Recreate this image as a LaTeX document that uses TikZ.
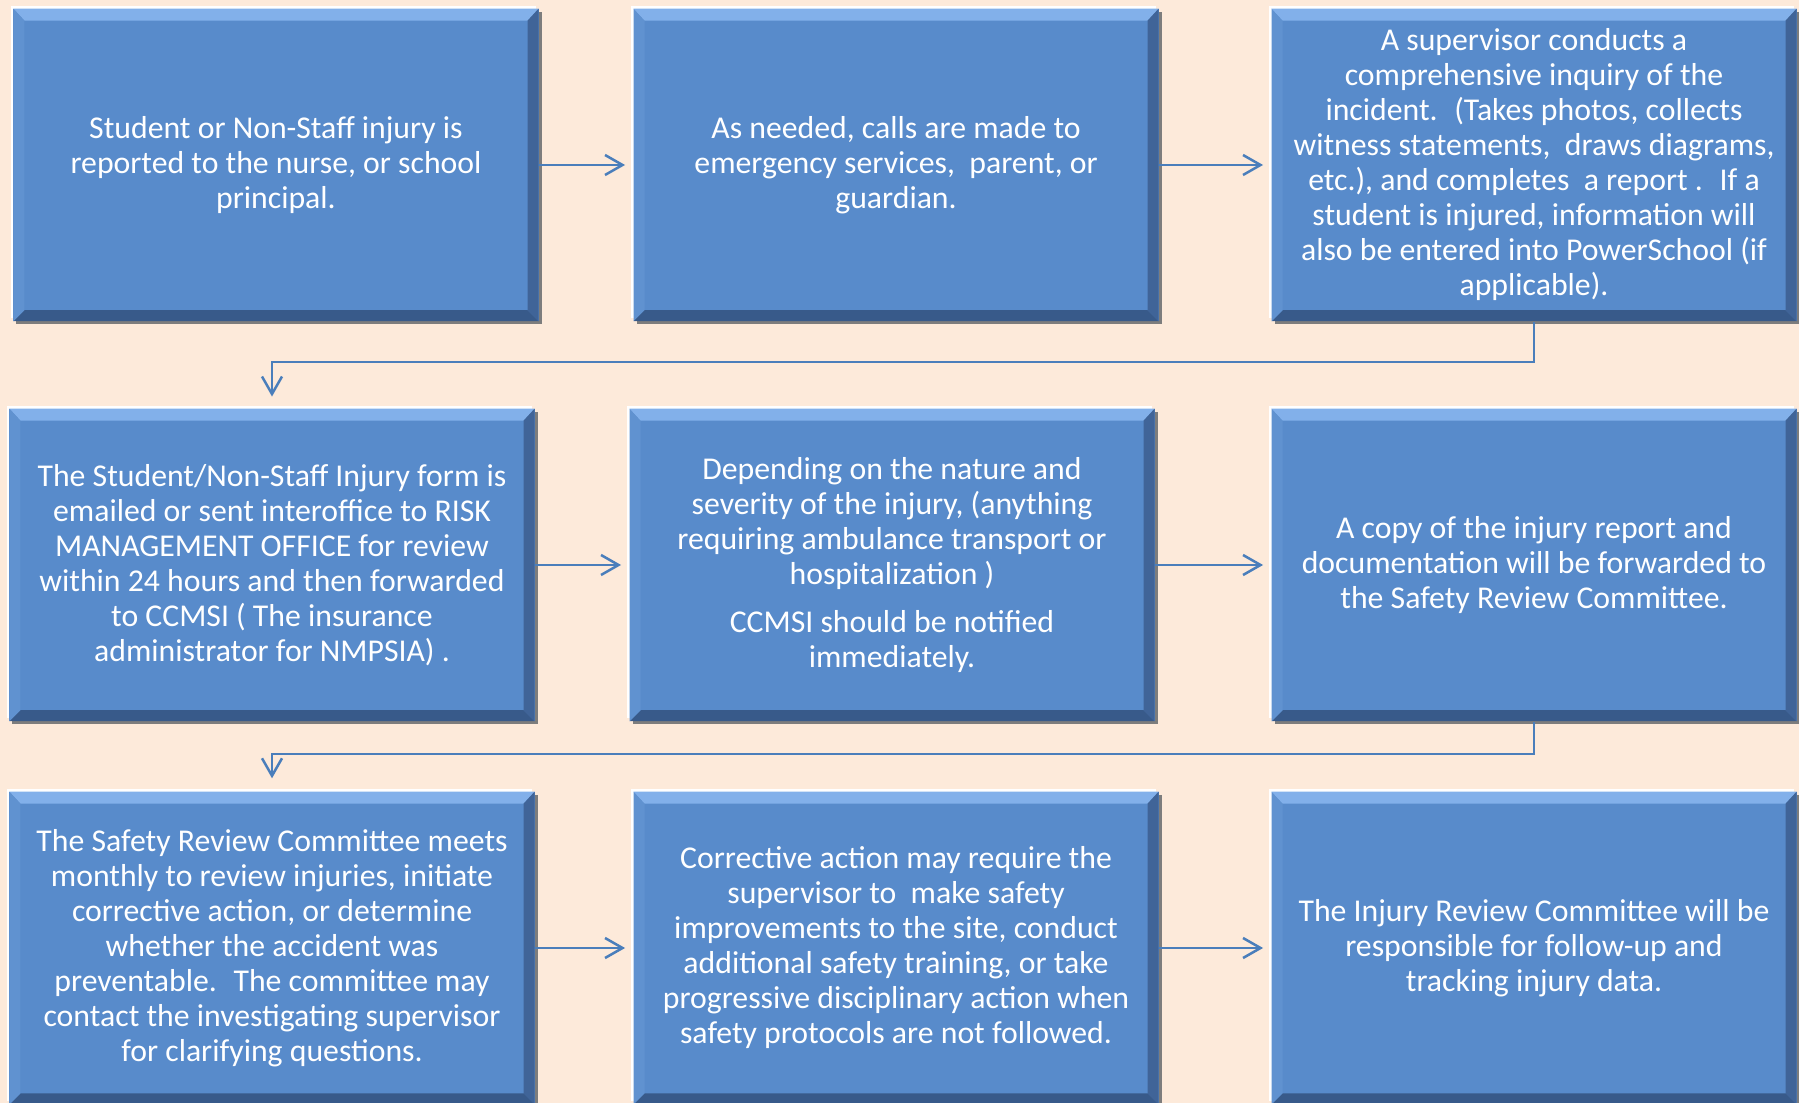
\documentclass[tikz,border=0pt]{standalone}
\usepackage{fontspec}
\setmainfont{Carlito}
\usetikzlibrary{arrows.meta}

\definecolor{pagebg}{RGB}{253,234,218}
\definecolor{boxblue}{RGB}{88,139,203}
\definecolor{bevellight}{RGB}{130,176,234}
\definecolor{beveldark}{RGB}{56,90,138}
\definecolor{bevelside}{RGB}{64,100,152}
\definecolor{bevelleft}{RGB}{96,146,208}
\definecolor{framegray}{RGB}{125,125,125}
\definecolor{linkblue}{RGB}{74,126,187}

\tikzset{every picture/.style={line width=0.75pt}}
\tikzset{
  flowbox/.style={fill=boxblue, minimum width=210pt, minimum height=125pt, inner sep=0pt,
    text=white, align=center, font=\fontsize{12.7pt}{14pt}\selectfont,
    preaction={fill=framegray, transform canvas={xshift=1.2pt,yshift=-1.2pt}},
    preaction={fill=white, transform canvas={xshift=-1pt,yshift=1.2pt}},
    path picture={
      \path (path picture bounding box.north west) ++(11,-12) coordinate (bvnw)
            (path picture bounding box.south east) ++(-11,11) coordinate (bvse);
      \fill[bevellight] (path picture bounding box.north west) -- (path picture bounding box.north east) -- (bvnw -| bvse) -- (bvnw) -- cycle;
      \fill[beveldark] (path picture bounding box.south west) -- (path picture bounding box.south east) -- (bvse) -- (bvnw |- bvse) -- cycle;
      \fill[bevelside] (path picture bounding box.north east) -- (path picture bounding box.south east) -- (bvse) -- (bvnw -| bvse) -- cycle;
      \fill[bevelleft] (path picture bounding box.north west) -- (path picture bounding box.south west) -- (bvnw |- bvse) -- (bvnw) -- cycle;
    }},
  flowarrow/.style={draw=linkblue, line width=1pt, -{Straight Barb[length=7pt,width=8pt]}, shorten >=3pt}
}

\begin{document}
\begin{tikzpicture}[x=0.4pt,y=0.4pt,yscale=-1,xscale=1]
%set diagram left start at 0, and has height of 1103
\fill[pagebg] (0,0) rectangle (1799,1103);
\useasboundingbox (0,0) rectangle (1799,1103);

% Text Node
\draw (276,165) node [flowbox] (report) {Student or Non-Staff injury is\\ reported to the nurse, or school\\ principal.};
% Text Node
\draw (896,165) node [flowbox] (calls) {As needed, calls are made to\\ emergency services,~ parent, or\\ guardian.};
% Text Node
\draw (1534,165) node [flowbox] (inquiry) {A supervisor conducts a\\ comprehensive inquiry of the\\ incident.~ (Takes photos, collects\\ witness statements,~ draws diagrams,\\ etc.), and completes~ a report .~ If a\\ student is injured, information will\\ also be entered into PowerSchool (if\\ applicable).};
% Text Node
\draw (272,565) node [flowbox] (form) {The Student/Non-Staff Injury form is\\ emailed or sent interoffice to RISK\\ MANAGEMENT OFFICE for review\\ within 24 hours and then forwarded\\ to CCMSI ( The insurance\\ administrator for NMPSIA) .};
% Text Node
\draw (892,565) node [flowbox] (notify) {Depending on the nature and\\ severity of the injury, (anything\\ requiring ambulance transport or\\ hospitalization )\\[5.5pt] CCMSI should be notified\\ immediately.};
% Text Node
\draw (1534,565) node [flowbox] (copy) {A copy of the injury report and\\ documentation will be forwarded to\\ the Safety Review Committee.};
% Text Node
\draw (272,948) node [flowbox] (committee) {The Safety Review Committee meets\\ monthly to review injuries, initiate\\ corrective action, or determine\\ whether the accident was\\ preventable.~ The committee may\\ contact the investigating supervisor\\ for clarifying questions.};
% Text Node
\draw (896,948) node [flowbox] (corrective) {Corrective action may require the\\ supervisor to~ make safety\\ improvements to the site, conduct\\ additional safety training, or take\\ progressive disciplinary action when\\ safety protocols are not followed.};
% Text Node
\draw (1534,948) node [flowbox] (tracking) {The Injury Review Committee will be\\ responsible for follow-up and\\ tracking injury data.};

%Straight Lines
\draw [flowarrow] (report) -- (calls);
\draw [flowarrow] (calls) -- (inquiry);
\draw [flowarrow] (form) -- (notify);
\draw [flowarrow] (notify) -- (copy);
\draw [flowarrow] (committee) -- (corrective);
\draw [flowarrow] (corrective) -- (tracking);
%Elbow Lines
\draw [flowarrow, shorten >=4.5pt] (inquiry.south) -- ++(0,40) -| (form.north);
\draw [flowarrow, shorten >=5pt] (copy.south) -- ++(0,32) -| (committee.north);

\end{tikzpicture}
\end{document}
